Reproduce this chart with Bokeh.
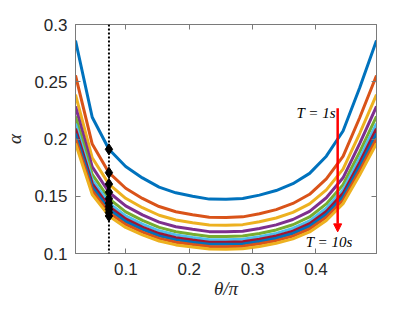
from bokeh.plotting import figure
from bokeh.models import (Range1d, LinearAxis, Span, Arrow, NormalHead, Label, FixedTicker,
                          CustomJSTickFormatter)
from bokeh.embed import file_html
from bokeh.resources import INLINE

# theta / pi sample points
theta = [0.0204, 0.0468, 0.0732, 0.0996, 0.1260, 0.1524, 0.1788, 0.2052, 0.2316, 0.2580,
         0.2844, 0.3108, 0.3372, 0.3636, 0.3900, 0.4164, 0.4428, 0.4692, 0.4956]

alpha_T1 = [0.2860, 0.2190, 0.1910, 0.1760, 0.1660, 0.1580, 0.1530, 0.1500, 0.1475, 0.1474,
            0.1480, 0.1510, 0.1550, 0.1610, 0.1700, 0.1850, 0.2070, 0.2450, 0.2860]
alpha_T2 = [0.2555, 0.1956, 0.1706, 0.1570, 0.1481, 0.1410, 0.1365, 0.1339, 0.1316, 0.1315,
            0.1320, 0.1347, 0.1383, 0.1437, 0.1517, 0.1651, 0.1848, 0.2188, 0.2555]
alpha_T3 = [0.2387, 0.1836, 0.1606, 0.1482, 0.1400, 0.1334, 0.1293, 0.1269, 0.1248, 0.1247,
            0.1252, 0.1277, 0.1310, 0.1359, 0.1433, 0.1556, 0.1737, 0.2050, 0.2387]
alpha_T4 = [0.2285, 0.1756, 0.1535, 0.1416, 0.1337, 0.1274, 0.1234, 0.1211, 0.1191, 0.1190,
            0.1194, 0.1218, 0.1250, 0.1297, 0.1368, 0.1487, 0.1661, 0.1961, 0.2285]
alpha_T5 = [0.2198, 0.1691, 0.1479, 0.1364, 0.1289, 0.1228, 0.1190, 0.1168, 0.1149, 0.1148,
            0.1152, 0.1175, 0.1206, 0.1251, 0.1319, 0.1433, 0.1600, 0.1887, 0.2198]
alpha_T6 = [0.2134, 0.1644, 0.1439, 0.1329, 0.1256, 0.1198, 0.1161, 0.1139, 0.1121, 0.1120,
            0.1124, 0.1146, 0.1176, 0.1219, 0.1285, 0.1395, 0.1556, 0.1834, 0.2134]
alpha_T7 = [0.2090, 0.1611, 0.1410, 0.1302, 0.1231, 0.1174, 0.1138, 0.1117, 0.1099, 0.1098,
            0.1102, 0.1124, 0.1153, 0.1195, 0.1260, 0.1367, 0.1525, 0.1796, 0.2090]
alpha_T8 = [0.2047, 0.1580, 0.1385, 0.1279, 0.1210, 0.1154, 0.1119, 0.1098, 0.1081, 0.1080,
            0.1084, 0.1105, 0.1133, 0.1175, 0.1238, 0.1342, 0.1496, 0.1761, 0.2047]
alpha_T9 = [0.2003, 0.1548, 0.1357, 0.1254, 0.1186, 0.1132, 0.1098, 0.1078, 0.1061, 0.1060,
            0.1064, 0.1085, 0.1112, 0.1152, 0.1214, 0.1316, 0.1465, 0.1724, 0.2003]
alpha_T10 = [0.1960, 0.1515, 0.1328, 0.1228, 0.1162, 0.1109, 0.1075, 0.1056, 0.1039, 0.1038,
             0.1042, 0.1062, 0.1089, 0.1128, 0.1188, 0.1288, 0.1434, 0.1687, 0.1960]

series = [alpha_T1, alpha_T2, alpha_T3, alpha_T4, alpha_T5,
          alpha_T6, alpha_T7, alpha_T8, alpha_T9, alpha_T10]

colors = ["#0072BD", "#D95319", "#EDB120", "#7E2F8E", "#77AC30",
          "#4DBEEE", "#A2142F", "#0072BD", "#D95319", "#EDB120"]

marker_index = 2
theta_marker = theta[marker_index]

x_ticks = [0.1, 0.2, 0.3, 0.4]
x_tick_labels = ["0.1", "0.2", "0.3", "0.4"]
y_ticks = [0.1, 0.15, 0.2, 0.25, 0.3]
y_tick_labels = ["0.1", "0.15", "0.2", "0.25", "0.3"]

label_top = "T = 1s"
label_bottom = "T = 10s"
arrow_x = 0.4343
arrow_y_start = 0.2268
arrow_y_end = 0.1189

AX = "#7a7a7a"
TXT = "#262626"

p = figure(width=407, height=304, output_backend="svg", toolbar_location=None,
           x_range=Range1d(theta[0], theta[-1]), y_range=Range1d(0.1, 0.3),
           min_border_left=75, min_border_right=31, min_border_top=24, min_border_bottom=51)
p.background_fill_color = "white"
p.border_fill_color = "white"
p.outline_line_color = AX
p.xgrid.visible = False
p.ygrid.visible = False

for ax, ticks, labels in ((p.xaxis[0], x_ticks, x_tick_labels), (p.yaxis[0], y_ticks, y_tick_labels)):
    ax.ticker = FixedTicker(ticks=ticks)
    ax.major_label_overrides = {t: l for t, l in zip(ticks, labels)}
    ax.major_tick_in = 5
    ax.major_tick_out = 0
    ax.minor_tick_in = 0
    ax.minor_tick_out = 0
    ax.axis_line_color = AX
    ax.major_tick_line_color = AX
    ax.major_label_text_font = "Liberation Sans"
    ax.major_label_text_font_size = "17px"
    ax.major_label_text_color = TXT
    ax.axis_label_text_font = "Liberation Serif"
    ax.axis_label_text_font_style = "italic"
    ax.axis_label_text_font_size = "19px"
    ax.axis_label_text_color = TXT

p.xaxis[0].axis_label = "θ/π"
p.yaxis[0].axis_label = "α"
p.xaxis[0].major_label_standoff = 9
p.yaxis[0].major_label_standoff = 8
p.xaxis[0].axis_label_standoff = 0
p.yaxis[0].axis_label_standoff = 6

for loc, ticks in (("above", x_ticks), ("right", y_ticks)):
    ax = LinearAxis(ticker=FixedTicker(ticks=ticks),
                    formatter=CustomJSTickFormatter(code="return ''"))
    ax.major_tick_in = 5
    ax.major_tick_out = 0
    ax.minor_tick_in = 0
    ax.minor_tick_out = 0
    ax.axis_line_color = AX
    ax.major_tick_line_color = AX
    ax.major_label_standoff = 0
    p.add_layout(ax, loc)

for ys, c in zip(series, colors):
    p.line(theta, ys, line_color=c, line_width=3)

p.add_layout(Span(location=theta_marker, dimension="height", line_color="black",
                  line_width=2, line_dash="2 2"))

p.scatter([theta_marker] * len(series), [s[marker_index] for s in series],
          marker="diamond", size=11, fill_color="black", line_color="black")

p.add_layout(Arrow(end=NormalHead(size=8, fill_color="red", line_color="red"),
                   x_start=arrow_x, y_start=arrow_y_start, x_end=arrow_x, y_end=arrow_y_end,
                   line_color="red", line_width=2.5))

p.add_layout(Label(x=arrow_x - 0.003, y=0.2224, text=label_top, text_align="right",
                   text_baseline="middle", text_font="Liberation Serif",
                   text_font_style="italic", text_font_size="15px", text_color="black"))
p.add_layout(Label(x=0.4209, y=0.1102, text=label_bottom, text_align="center",
                   text_baseline="middle", text_font="Liberation Serif",
                   text_font_style="italic", text_font_size="15px", text_color="black"))

open("out.html", "w").write(file_html(p, INLINE))
